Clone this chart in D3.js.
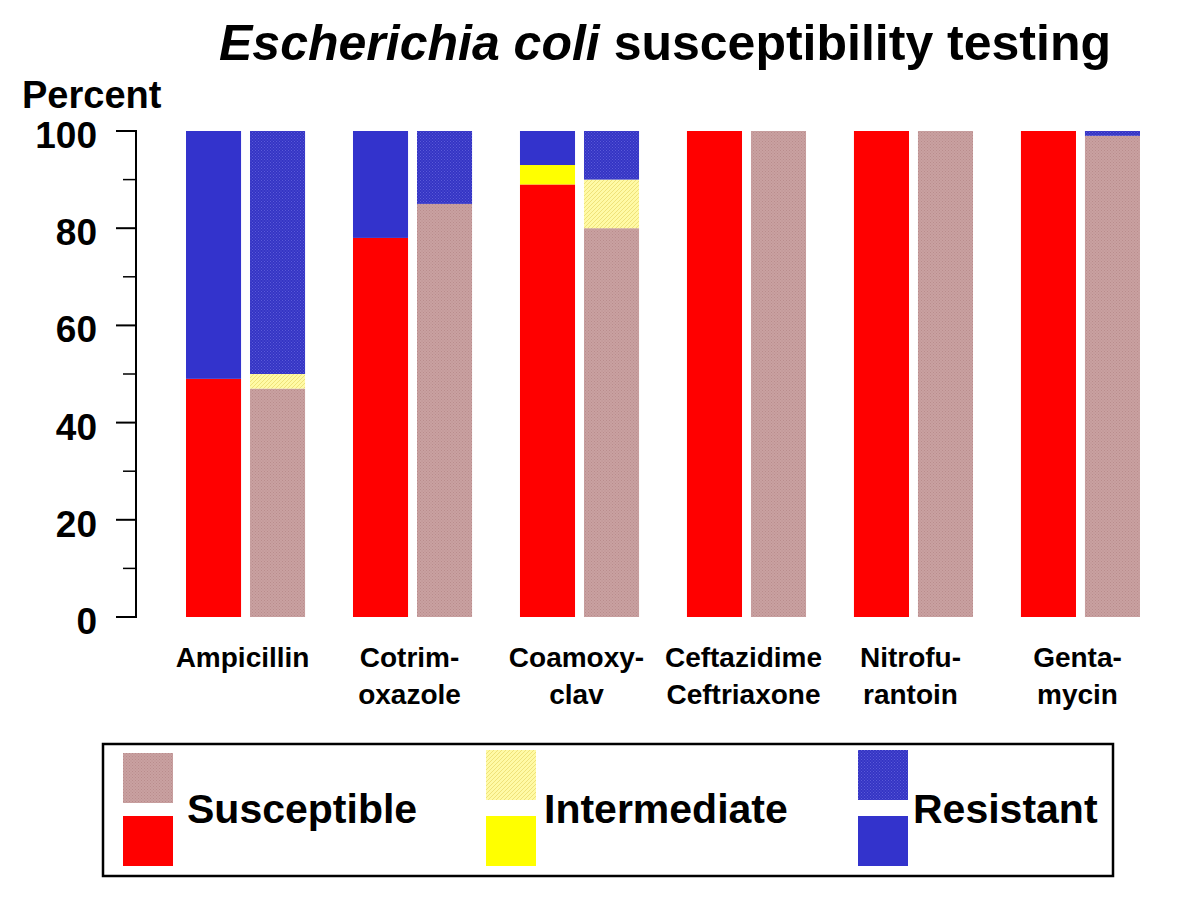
<!DOCTYPE html>
<html><head><meta charset="utf-8">
<script src="https://cdn.jsdelivr.net/npm/d3@7"></script>
<style>body{margin:0;background:#fff;} text{font-family:"Liberation Sans",Arial,sans-serif;font-weight:bold;}</style>
</head><body>
<svg id="c" width="1200" height="900"></svg>
<script>
const categories = ["Ampicillin","Cotrim-|oxazole","Coamoxy-|clav","Ceftazidime|Ceftriaxone","Nitrofu-|rantoin","Genta-|mycin"];
const seriesKinds = ["solid","pattern"];
const solidSusceptible = [49, 78, 89, 100, 100, 100];
const solidIntermediate = [0, 0, 4, 0, 0, 0];
const solidResistant = [51, 22, 7, 0, 0, 0];
const patternSusceptible = [47, 85, 80, 100, 100, 99];
const patternIntermediate = [3, 0, 10, 0, 0, 0];
const patternResistant = [50, 15, 10, 0, 0, 1];
const yTicksMajor = [0, 20, 40, 60, 80, 100];
const yTicksMinor = [10, 30, 50, 70, 90];
const legendLabels = ["Susceptible","Intermediate","Resistant"];

const svg = d3.select("#c");
const defs = svg.append("defs");
function dotPattern(id, bg, dot){
  const p = defs.append("pattern").attr("id",id).attr("patternUnits","userSpaceOnUse").attr("width",3).attr("height",3);
  p.append("rect").attr("width",3).attr("height",3).attr("fill",bg);
  p.append("rect").attr("x",0).attr("y",0).attr("width",1).attr("height",1).attr("fill",dot);
  p.append("rect").attr("x",1.5).attr("y",1.5).attr("width",1).attr("height",1).attr("fill",dot);
}
dotPattern("pS","#c9a1a1","#b98c8c");
dotPattern("pR","#3434c4","#5a5ad8");
(function(){
  const p = defs.append("pattern").attr("id","pI").attr("patternUnits","userSpaceOnUse").attr("width",4).attr("height",4);
  p.append("rect").attr("width",4).attr("height",4).attr("fill","#fffaa6");
  p.append("path").attr("d","M-1,1 L1,-1 M0,4 L4,0 M3,5 L5,3").attr("stroke","#efe27a").attr("stroke-width",1);
})();

const solidFill = {S:"#ff0000", I:"#ffff00", R:"#3333cc"};
const patFill = {S:"url(#pS)", I:"url(#pI)", R:"url(#pR)"};

const x = d3.scaleBand().domain(categories).range([186,1140]).paddingInner(0.287).paddingOuter(0);
const xi = d3.scaleBand().domain(seriesKinds).range([0, x.bandwidth()]).paddingInner(0.14).paddingOuter(0);
const y = d3.scaleLinear().domain([0,100]).range([617,131]);

const rows = [];
categories.forEach((c,i)=>{
  [["solid",[solidSusceptible[i],solidIntermediate[i],solidResistant[i]]],
   ["pattern",[patternSusceptible[i],patternIntermediate[i],patternResistant[i]]]].forEach(([k,vals])=>{
    let acc = 0;
    ["S","I","R"].forEach((s,j)=>{
      const v = vals[j];
      if(v>0){ rows.push({c, k, s, y0:acc, y1:acc+v}); }
      acc += v;
    });
  });
});
svg.append("g").selectAll("rect").data(rows).join("rect")
  .attr("x", d=>x(d.c)+xi(d.k))
  .attr("width", xi.bandwidth())
  .attr("y", d=>y(d.y1))
  .attr("height", d=>y(d.y0)-y(d.y1))
  .attr("fill", d=> d.k==="solid" ? solidFill[d.s] : patFill[d.s]);

// y axis
const ax = 136;
const g = svg.append("g");
g.append("line").attr("x1",ax).attr("x2",ax).attr("y1",y(0)+1).attr("y2",y(100)-1).attr("stroke","#000").attr("stroke-width",2);
g.selectAll(".maj").data(yTicksMajor).join("line").attr("x1",ax-20).attr("x2",ax+1).attr("y1",d=>y(d)).attr("y2",d=>y(d)).attr("stroke","#000").attr("stroke-width",2);
g.selectAll(".min").data(yTicksMinor).join("line").attr("x1",ax-13).attr("x2",ax).attr("y1",d=>y(d)).attr("y2",d=>y(d)).attr("stroke","#000").attr("stroke-width",1.5);
g.selectAll(".lab").data(yTicksMajor).join("text").attr("x",97).attr("y",d=>y(d)+17).attr("text-anchor","end").attr("font-size",37).text(d=>d);
svg.append("text").attr("x",22).attr("y",108).attr("font-size",38).text("Percent");

// title
const t = svg.append("text").attr("x",665).attr("y",60).attr("text-anchor","middle").attr("font-size",50);
t.append("tspan").attr("font-style","italic").text("Escherichia coli");
t.append("tspan").text(" susceptibility testing");

// category labels
svg.append("g").selectAll("text").data(categories).join("text")
  .attr("y", 667).attr("text-anchor","middle").attr("font-size",28)
  .each(function(d){
    const parts = d.split("|");
    d3.select(this).selectAll("tspan").data(parts).join("tspan")
      .attr("x", x(d)+x.bandwidth()/2 - 3).attr("dy",(p,i)=>i===0?0:37).text(p=>p);
  });

// legend
svg.append("rect").attr("x",103).attr("y",744).attr("width",1010).attr("height",132).attr("fill","none").attr("stroke","#000").attr("stroke-width",2.5);
const legX = [123, 486, 858];
const legKeys = ["S","I","R"];
const legTopY = [753, 750, 750];
const legTextX = [187, 544, 913];
legendLabels.forEach((lab,i)=>{
  svg.append("rect").attr("x",legX[i]).attr("y",legTopY[i]).attr("width",50).attr("height",50).attr("fill",patFill[legKeys[i]]);
  svg.append("rect").attr("x",legX[i]).attr("y",816).attr("width",50).attr("height",50).attr("fill",solidFill[legKeys[i]]);
  svg.append("text").attr("x",legTextX[i]).attr("y",823).attr("font-size",41).text(lab);
});
</script>
</body></html>
